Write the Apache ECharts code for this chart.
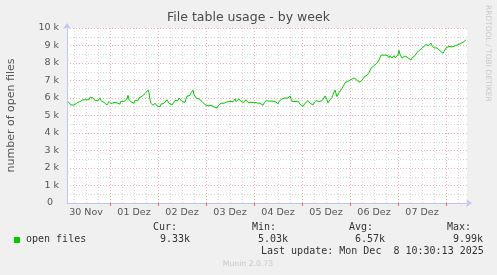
<!DOCTYPE html>
<html>
<head>
<meta charset="utf-8">
<script src="https://cdn.jsdelivr.net/npm/echarts@6/dist/echarts.min.js"></script>
<style>
html,body{margin:0;padding:0;background:#f0f0f0;}
#c{width:497px;height:275px;}
</style>
</head>
<body>
<div id="c"></div>
<script>
// ---- data (values in thousands of open files, half-hourly samples) ----
const startHour = 3;            // hours after 30 Nov 00:00 of first sample
const stepHours = 0.5;          // sample spacing
const axisMinHour = 2.5;        // 30 Nov 02:30
const axisMaxHour = 202.5;      // 08 Dez 10:30
const dayLabels = ['30 Nov','01 Dez','02 Dez','03 Dez','04 Dez','05 Dez','06 Dez','07 Dez'];
const nov30 = [5.8,5.75,5.7,5.6,5.5,5.62,5.6,5.7,5.65,5.72,5.7,5.78,5.8,5.75,5.85,5.9,5.82,5.95,5.9,5.85,6.0,5.9,6.05,5.95,6.15,6.0,5.9,5.85,5.9,5.78,5.85,5.95,6.0,5.85,5.9,5.8,5.75,5.7,5.65,5.6,5.7,5.8];
const dec01 = [5.85,5.68,5.7,5.62,5.75,5.85,5.8,5.72,5.7,5.78,5.65,5.82,5.9,5.75,5.8,5.7,5.75,5.95,6.15,5.9,5.85,5.78,5.8,5.72,5.7,5.85,5.9,5.8,5.85,6.0,6.0,5.95,6.1,6.2,6.05,6.25,6.3,6.2,6.45,6.3,5.9,5.7,5.6,5.58,5.65,5.7,5.6,5.55];
const dec02 = [5.55,5.6,5.5,5.65,5.6,5.75,5.7,5.8,5.75,5.9,5.8,5.7,5.75,5.62,5.6,5.7,5.65,5.85,5.8,5.9,5.85,6.0,6.02,5.9,5.8,5.85,5.7,5.75,5.95,6.1,6.2,6.05,6.15,6.3,6.35,6.45,6.2,6.1,6.0,5.95,5.9,5.95,5.85,5.9,5.8,5.78,5.7,5.62];
const dec03 = [5.6,5.65,5.55,5.6,5.5,5.58,5.6,5.52,5.5,5.6,5.48,5.42,5.55,5.62,5.6,5.7,5.65,5.75,5.7,5.8,5.72,5.78,5.85,5.75,5.8,5.9,5.82,5.78,5.85,5.95,5.8,5.85,5.9,5.95,5.88,5.8,5.9,5.85,5.75,5.8,5.9,5.85,5.75,5.8,5.7,5.75,5.85,5.78];
const dec04 = [5.75,5.7,5.8,5.72,5.75,5.65,5.7,5.62,5.6,5.58,5.7,5.8,5.85,5.9,5.95,5.82,5.8,5.88,5.82,5.9,5.85,5.8,5.75,5.7,5.68,5.8,5.85,5.9,5.95,5.88,5.9,6.0,5.95,6.05,6.0,6.1,6.12,5.95,5.8,5.78,5.85,5.8,5.9,5.85,5.82,5.75,5.65,5.6];
const dec05 = [5.7,5.52,5.6,5.7,5.75,5.8,5.85,5.75,5.7,5.65,5.7,5.6,5.72,5.8,5.85,5.95,5.9,5.8,5.85,5.9,5.85,5.95,6.0,6.12,6.15,5.9,5.72,5.8,5.9,5.95,6.02,6.2,6.3,6.45,6.35,6.08,6.15,6.3,6.25,6.4,6.55,6.6,6.75,6.88,6.85,6.9,6.95,7.0];
const dec06 = [7.0,7.05,7.1,7.05,7.15,7.1,7.05,7.02,6.95,6.9,6.88,6.85,7.0,7.1,7.2,7.15,7.25,7.3,7.35,7.45,7.55,7.7,7.8,7.75,7.85,7.82,7.9,8.0,8.1,8.17,8.3,8.45,8.5,8.4,8.45,8.38,8.36,8.45,8.4,8.3,8.42,8.35,8.28,8.38,8.42,8.3,8.2,8.35];
const dec07 = [8.45,8.72,8.5,8.4,8.28,8.35,8.3,8.4,8.32,8.36,8.3,8.25,8.2,8.17,8.3,8.25,8.35,8.42,8.46,8.6,8.55,8.7,8.75,8.86,8.8,8.9,8.93,9.0,9.05,9.14,9.1,9.0,9.05,9.14,9.0,8.95,8.86,8.9,8.8,8.86,8.78,8.82,8.7,8.75,8.63,8.55,8.46,8.65];
const dec08 = [8.86,8.9,8.85,8.95,8.9,8.97,8.92,9.0,8.95,8.98,9.03,8.98,9.05,9.14,9.05,9.12,9.2,9.12,9.22,9.28,9.33];
const yTicks = [0,1000,2000,3000,4000,5000,6000,7000,8000,9000,10000];
const legendStats = {cur:'9.33k', min:'5.03k', avg:'6.57k', max:'9.99k'};
const lastUpdate = 'Last update: Mon Dec  8 10:30:13 2025';

// ---- build series ----
const values = [].concat(nov30,dec01,dec02,dec03,dec04,dec05,dec06,dec07,dec08);
const seriesData = values.map((v,i)=>[startHour+i*stepHours, v*1000]);
const minorX = [], majorX = [], labelX = [];
for (let h = 6; h < axisMaxHour; h += 6) { if (h % 24 !== 0 && h > axisMinHour) minorX.push(h); }
for (let h = 24; h < axisMaxHour; h += 24) majorX.push(h);
dayLabels.forEach((d,i)=>labelX.push(12+24*i));

const AXIS_BLUE = '#c4c4f4';
const MAJOR = '#ecb0b0';
const MINOR = '#d6d6d6';
const grid = {left:67, top:28, width:400, height:175, show:true, backgroundColor:'#ffffff', borderWidth:0};
const baseX = {type:'value', min:axisMinHour, max:axisMaxHour, position:'bottom', gridIndex:0};

const mono = '"DejaVu Sans Mono", monospace';
const sans = '"DejaVu Sans", sans-serif';
function mtext(x,y,t){ return {type:'text', x:x, y:y, style:{text:t, font:'10px '+mono, fill:'#333', verticalAlign:'middle'}}; }

const chart = echarts.init(document.getElementById('c'), null, {renderer:'canvas'});
chart.setOption({
  backgroundColor:'#f0f0f0',
  animation:false,
  title:{text:'File table usage - by week', left:'center', top:11, padding:0,
    textStyle:{fontFamily:sans, fontSize:12.5, fontWeight:'normal', color:'#4a4a4a'}},
  grid:grid,
  xAxis:[
    Object.assign({}, baseX, {
      axisLine:{show:false}, axisLabel:{show:false},
      axisTick:{show:false, customValues:minorX},
      splitLine:{show:true, lineStyle:{color:MINOR, width:1, type:[1,2]}}
    }),
    Object.assign({}, baseX, {
      axisLine:{show:false}, axisLabel:{show:false},
      axisTick:{show:true, inside:false, length:3, customValues:majorX, lineStyle:{color:'#e07070'}},
      splitLine:{show:true, lineStyle:{color:MAJOR, width:1, type:[1,2]}}
    }),
    Object.assign({}, baseX, {
      axisLine:{show:true, symbol:['none','arrow'], symbolSize:[6,6], symbolOffset:[0,5], lineStyle:{color:AXIS_BLUE, width:1}},
      axisTick:{show:false},
      splitLine:{show:false},
      axisLabel:{show:true, customValues:labelX, margin:5, color:'#555', fontFamily:sans, fontSize:9.5,
        formatter:function(v){ return dayLabels[Math.round((v-12)/24)]; }}
    })
  ],
  yAxis:[{
    type:'value', min:yTicks[0], max:yTicks[yTicks.length-1], interval:1000,
    axisLine:{show:true, symbol:['none','arrow'], symbolSize:[6,6], symbolOffset:[0,5], lineStyle:{color:AXIS_BLUE, width:1}},
    axisTick:{show:false},
    minorTick:{show:false, splitNumber:2},
    minorSplitLine:{show:true, lineStyle:{color:MINOR, width:1, type:[1,2]}},
    splitLine:{show:true, lineStyle:{color:MAJOR, width:1, type:[1,2]}},
    axisLabel:{margin:8, color:'#555', fontFamily:sans, fontSize:9.5,
      formatter:function(v){ return v===0 ? '0  ' : (v/1000)+' k'; }}
  }],
  series:[{
    type:'line', xAxisIndex:0, yAxisIndex:0, data:seriesData,
    showSymbol:false, symbol:'none', smooth:false,
    lineStyle:{color:'#00cc00', width:1}, itemStyle:{color:'#00cc00'}
  }],
  graphic:[
    {type:'text', x:11, y:115.5, rotation:Math.PI/2,
      style:{text:'number of open files', font:'11px '+sans, fill:'#555', align:'center', verticalAlign:'middle'}},
    {type:'text', x:488, y:5, rotation:-Math.PI/2,
      style:{text:'RRDTOOL / TOBI OETIKER', font:'7.5px '+sans, fill:'#c8c8c8', align:'left', verticalAlign:'middle'}},
    {type:'rect', shape:{x:14, y:237, width:6, height:6}, style:{fill:'#00cc00'}},
    mtext(26,239.5,'open files'),
    mtext(153,227.5,'Cur:'), mtext(160,239.5,legendStats.cur),
    mtext(252,227.5,'Min:'), mtext(258,239.5,legendStats.min),
    mtext(349,227.5,'Avg:'), mtext(355,239.5,legendStats.avg),
    mtext(447,227.5,'Max:'), mtext(453,239.5,legendStats.max),
    mtext(261,251.5,lastUpdate),
    {type:'text', x:248, y:264, style:{text:'Munin 2.0.73', font:'7.7px '+sans, fill:'#c8c8c8', align:'center', verticalAlign:'middle'}}
  ]
});
</script>
</body>
</html>
